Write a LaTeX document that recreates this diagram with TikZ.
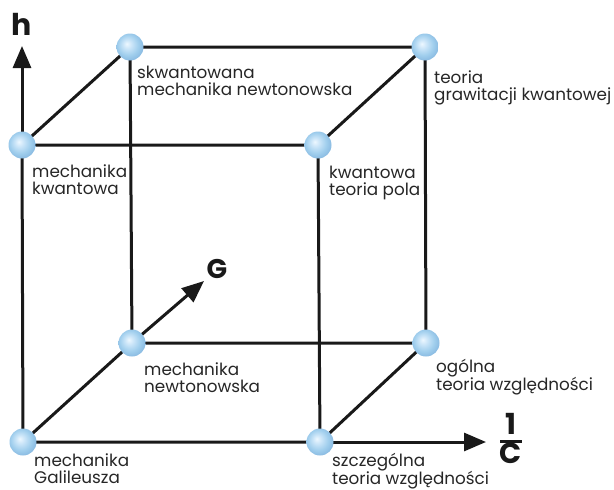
\documentclass[tikz,border=0pt]{standalone}
\usepackage{fontspec}
\setmainfont{Poppins}
\usetikzlibrary{arrows.meta,backgrounds}

% pale blue sphere for the vertices
\pgfdeclareradialshading{bluesphere}{\pgfpoint{-6bp}{6bp}}{%
  rgb(0bp)=(0.93,0.97,1);
  rgb(9bp)=(0.78,0.89,0.97);
  rgb(19bp)=(0.63,0.81,0.93);
  rgb(27bp)=(0.55,0.74,0.89);
  rgb(50bp)=(0.55,0.74,0.89)}

% first-line strut so every caption's top sits 14pt above its first baseline
\newcommand\capstrut{\rule{0pt}{14pt}}

\tikzset{
  vertex/.style={circle,draw=none,minimum size=27pt,inner sep=0pt,shading=bluesphere},
  edge/.style={line width=3pt,black!90},
  axis/.style={edge,-{Triangle[length=22pt,width=18pt]}},
  caption/.style={anchor=north west,align=left,inner sep=0pt,font=\fontsize{16.8}{17}\selectfont,text=black!85},
  axislabel/.style={text=black!90,inner sep=0pt}
}

\begin{document}
\begin{tikzpicture}[x=1pt,y=-1pt]
\useasboundingbox (0,0) rectangle (614,490);

% cube vertices
\node[vertex] (gal) at (23,442) {};
\node[vertex] (str) at (320,442) {};
\node[vertex] (mkw) at (22,145) {};
\node[vertex] (ktp) at (318,145) {};
\node[vertex] (new) at (132,343) {};
\node[vertex] (otw) at (426,343) {};
\node[vertex] (smn) at (130,47) {};
\node[vertex] (tgk) at (425,47) {};

% axis ends
\coordinate (htip) at (22,46);
\coordinate (ctip) at (486,442);
\coordinate (gtip) at (204,281);

\begin{scope}[on background layer]
  % front face
  \draw[edge] (gal.center) -- (str.center) -- (ktp.center) -- (mkw.center) -- cycle;
  % back face
  \draw[edge] (new.center) -- (otw.center) -- (tgk.center) -- (smn.center) -- cycle;
  % depth edges
  \draw[edge] (gal.center) -- (new.center);
  \draw[edge] (str.center) -- (otw.center);
  \draw[edge] (mkw.center) -- (smn.center);
  \draw[edge] (ktp.center) -- (tgk.center);
  % axes
  \draw[axis] (mkw.center) -- (htip);
  \draw[axis] (str.center) -- (ctip);
  \draw[axis] (new.center) -- (gtip);
\end{scope}

% axis labels
\node[axislabel,font=\fontsize{30}{30}\selectfont\bfseries] (hlab) at (21.5,24) {h};
\node[axislabel,font=\fontsize{27}{27}\selectfont\bfseries] (glab) at (217,269) {G};
\node[axislabel,font=\fontsize{29}{29}\selectfont\bfseries] (clab) at (511,442)
  {\vbox{\hbox to 22pt{\hss\rule[-5pt]{0pt}{26pt}1\hss}\hrule height 3pt
         \hbox to 22pt{\hss\rule[-7pt]{0pt}{24pt}C\hss}}};

% vertex captions
\node[caption] (lmkw) at (32,163) {\capstrut mechanika\\kwantowa};
\node[caption] (lsmn) at (137,64) {\capstrut skwantowana\\mechanika newtonowska};
\node[caption] (ltgk) at (434,69) {\capstrut teoria\\grawitacji kwantowej};
\node[caption] (lktp) at (329,164) {\capstrut kwantowa\\teoria pola};
\node[caption] (lnew) at (144,361) {\capstrut mechanika\\newtonowska};
\node[caption] (lotw) at (436,358) {\capstrut ogólna\\teoria względności};
\node[caption] (lgal) at (34,452) {\capstrut mechanika\\Galileusza};
\node[caption] (lstr) at (332,452) {\capstrut szczególna\\teoria względności};
\end{tikzpicture}
\end{document}
